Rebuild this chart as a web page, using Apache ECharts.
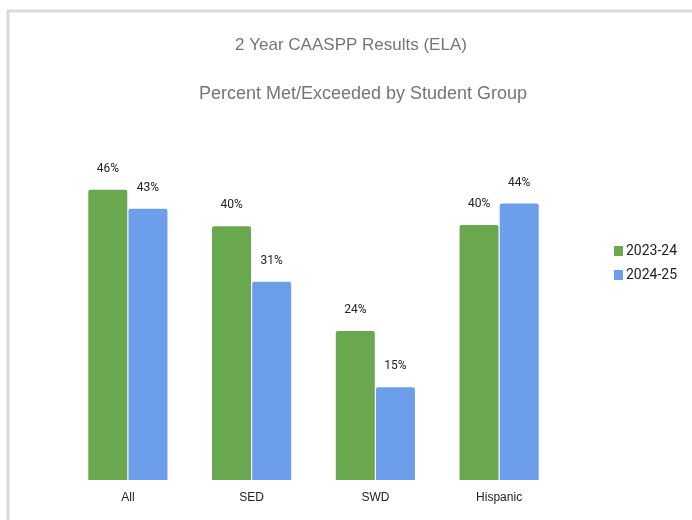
<!DOCTYPE html>
<html>
<head>
<meta charset="utf-8">
<script src="https://cdn.jsdelivr.net/npm/echarts@6/dist/echarts.min.js"></script>
<style>
html,body{margin:0;padding:0;background:#fff;}
#chart{width:692px;height:520px;}
</style>
</head>
<body>
<div id="chart"></div>
<script>
const categories = ['All', 'SED', 'SWD', 'Hispanic'];
const seriesNames = ['2023-24', '2024-25'];
const values2324 = [46, 40.2, 23.6, 40.4];
const values2425 = [43, 31.4, 14.7, 43.8];
const titleText = '2 Year CAASPP Results (ELA)';
const subtitleText = 'Percent Met/Exceeded by Student Group';

const chart = echarts.init(document.getElementById('chart'), null, {renderer: 'canvas'});

const labelCfg = {
  show: true,
  position: 'top',
  distance: 15,
  color: '#222222',
  fontFamily: 'Roboto',
  fontSize: 12,
  formatter: p => Math.round(p.value) + '%'
};

chart.setOption({
  animation: false,
  backgroundColor: '#ffffff',
  graphic: [
    {type: 'line', shape: {x1: 7, y1: 11, x2: 692, y2: 11}, style: {stroke: '#dadada', lineWidth: 3}},
    {type: 'line', shape: {x1: 8, y1: 10, x2: 8, y2: 520}, style: {stroke: '#dadada', lineWidth: 3}}
  ],
  title: [
    {text: titleText, left: 346, top: 32, textAlign: 'center',
     textStyle: {fontFamily: 'Liberation Sans', fontSize: 17, fontWeight: 'normal', color: '#757575'}},
    {text: subtitleText, left: 358, top: 80, textAlign: 'center',
     textStyle: {fontFamily: 'Liberation Sans', fontSize: 18, fontWeight: 'normal', color: '#757575'}}
  ],
  legend: {
    orient: 'vertical',
    left: 609,
    top: 239,
    itemWidth: 9,
    itemHeight: 10,
    itemGap: 10,
    icon: 'rect',
    textStyle: {fontFamily: 'Roboto', fontSize: 14, color: '#222222', padding: [0, 0, 0, -2]},
    data: seriesNames
  },
  grid: {left: 66, right: 131, top: 164.5, bottom: 40, containLabel: false},
  xAxis: {
    type: 'category',
    data: categories,
    axisLine: {show: false},
    axisTick: {show: false},
    axisLabel: {fontFamily: 'Liberation Sans', fontSize: 12, color: '#222222', margin: 12}
  },
  yAxis: {
    type: 'value',
    min: 0, max: 50,
    show: false,
    splitLine: {show: false}
  },
  series: [
    {name: seriesNames[0], type: 'bar', data: values2324, barWidth: 39, barGap: '3%',
     itemStyle: {color: '#6aa84f', borderRadius: [2, 2, 0, 0]}, label: labelCfg},
    {name: seriesNames[1], type: 'bar', data: values2425, barWidth: 39,
     itemStyle: {color: '#6d9eeb', borderRadius: [2, 2, 0, 0]}, label: labelCfg}
  ]
});
</script>
</body>
</html>
